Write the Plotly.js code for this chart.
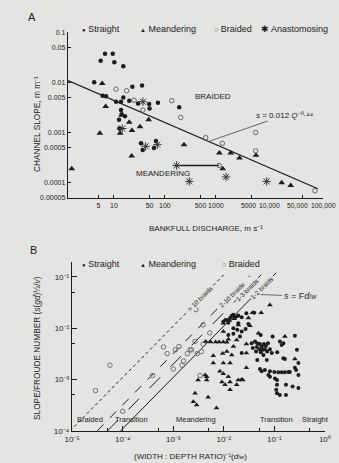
<!DOCTYPE html>
<html><head><meta charset="utf-8">
<script src="https://cdn.plot.ly/plotly-3.0.1.min.js"></script>
<style>html,body{margin:0;padding:0;background:#e4e4e2;}#chart{width:339px;height:463px;}</style>
</head><body><div id="chart"></div>
<script>
// ---------- Panel A: channel slope vs bankfull discharge ----------
const aStraightQ = [6.7, 9.5, 5.5, 10.2, 15.3, 4.1, 23, 35.6, 6.0, 7.0, 11, 13.8, 15.3, 20, 29.7, 49, 73, 50, 191, 13.8, 14.2, 16.5, 12.6, 12.8, 34, 36.7, 67, 61];
const aStraightS = [0.037, 0.037, 0.027, 0.025, 0.021, 0.010, 0.0082, 0.0086, 0.0054, 0.0053, 0.0041, 0.0041, 0.0050, 0.0043, 0.0038, 0.0037, 0.0039, 0.0030, 0.0032, 0.0028, 0.0023, 0.0021, 0.0018, 0.0012, 0.00061, 0.00045, 0.00068, 0.00049];
const aMeanderQ = [5.9, 6.9, 14.2, 20, 32.5, 48, 13.2, 22.6, 5.3, 22.3, 1.49, 237, 1170, 1950, 2900, 6100, 1360, 19500, 29300];
const aMeanderS = [0.0095, 0.0033, 0.0022, 0.0016, 0.0013, 0.0018, 0.00097, 0.0011, 0.00097, 0.00034, 0.00019, 0.00057, 0.00039, 0.00039, 0.00031, 0.00035, 0.00019, 0.0001, 0.000088];
const aBraidQ = [11, 17.8, 24.8, 37, 136, 204, 631, 1335, 6030, 6030, 1150, 87700];
const aBraidS = [0.0073, 0.0068, 0.0044, 0.0028, 0.0043, 0.0020, 0.00079, 0.00061, 0.0010, 0.00043, 0.00022, 0.000069];
const aAnastQ = [37, 14.6, 42, 71, 170, 1580, 300, 9900];
const aAnastS = [0.0041, 0.0012, 0.00053, 0.00057, 0.00022, 0.00013, 0.000106, 0.000106];
const aRangeQ = [170, 1150];          // connected pair (anastomosing -> braided)
const aRangeS = [0.00022, 0.00022];
const regCoef = 0.012, regExp = -0.44; // s = 0.012 Q^-0.44
const regQ = [1.26, 100000];
const aXTickVals = [5, 10, 50, 100, 500, 1000];
const aXTickText = ['5', '10', '50', '100', '500', '1000'];
const aXWideVals = [5000, 10000, 50000, 100000];
const aXWideText = ['5000', '10,000', '50,000', '100,000'];
const aXDecades = [10, 100, 1000, 10000, 100000];
const aYTickVals = [0.1, 0.05, 0.01, 0.005, 0.001, 0.0005, 0.0001, 0.00005];
const aYTickText = ['0.1', '0.05', '0.01', '0.005', '0.001', '0.0005', '0.0001', '0.00005'];
const aYDecades = [0.1, 0.01, 0.001, 0.0001];

// ---------- Panel B: slope/Froude number vs (width:depth)^-1 ----------
const bStraightX = [0.028, 0.040, 0.0144, 0.0155, 0.0194, 0.0226, 0.0133, 0.0166, 0.0115, 0.0098, 0.0123, 0.0194, 0.0307, 0.0155, 0.0185, 0.0226, 0.027, 0.0123, 0.0155, 0.0209, 0.0356, 0.0536, 0.0925, 0.129, 0.255, 0.14, 0.0414, 0.046, 0.0519, 0.0565, 0.0624, 0.0682, 0.0749, 0.0453, 0.051, 0.059, 0.065, 0.072, 0.082, 0.054, 0.061, 0.0435, 0.0376, 0.089, 0.114, 0.151, 0.0226, 0.046, 0.071, 0.162, 0.30, 0.28, 0.052, 0.056, 0.065, 0.082, 0.10, 0.12, 0.14, 0.162, 0.19, 0.203, 0.255, 0.30, 0.0765, 0.082, 0.103, 0.113, 0.113, 0.109, 0.113, 0.129, 0.17, 0.17, 0.23, 0.30, 0.27, 0.151];
const bStraightY = [0.0196, 0.020, 0.0174, 0.0182, 0.0176, 0.0164, 0.0158, 0.0158, 0.0145, 0.0134, 0.0128, 0.0125, 0.0121, 0.0100, 0.0093, 0.0086, 0.0096, 0.0074, 0.0078, 0.0069, 0.0051, 0.0074, 0.0069, 0.0055, 0.0071, 0.0047, 0.0055, 0.0051, 0.0049, 0.0044, 0.0049, 0.0045, 0.0051, 0.0043, 0.0039, 0.0038, 0.0039, 0.0035, 0.0039, 0.0034, 0.0030, 0.0035, 0.0041, 0.0033, 0.0034, 0.0026, 0.0033, 0.0024, 0.0024, 0.0025, 0.0021, 0.0038, 0.0016, 0.00145, 0.00154, 0.00145, 0.0014, 0.00139, 0.00139, 0.00139, 0.0014, 0.0014, 0.0017, 0.00123, 0.00123, 0.00113, 0.00105, 0.00098, 0.00079, 0.00063, 0.00054, 0.0005, 0.0005, 0.00079, 0.00073, 0.00068, 0.00154, 0.0051];
const bMeanderX = [0.0818, 0.055, 0.0175, 0.0307, 0.037, 0.016, 0.0106, 0.013, 0.0098, 0.0194, 0.033, 0.0098, 0.018, 0.0123, 0.0044, 0.0055, 0.0069, 0.0081, 0.0098, 0.0115, 0.028, 0.0485, 0.028, 0.0155, 0.0095, 0.0062, 0.0062, 0.0098, 0.0133, 0.0144, 0.028, 0.255, 0.0084, 0.0098, 0.0123, 0.0133, 0.0194, 0.0238, 0.0031, 0.0046, 0.0046, 0.0092, 0.0106, 0.0133, 0.0027, 0.0049, 0.0025, 0.0029, 0.0072, 0.0115, 0.018, 0.0043, 0.0226, 0.162];
const bMeanderY = [0.0284, 0.020, 0.0167, 0.0158, 0.020, 0.0152, 0.0145, 0.0141, 0.0125, 0.0116, 0.0112, 0.0086, 0.0059, 0.0061, 0.0055, 0.0054, 0.0054, 0.0054, 0.0054, 0.0053, 0.0049, 0.008, 0.0033, 0.0044, 0.0032, 0.0029, 0.0021, 0.0021, 0.0021, 0.0030, 0.0017, 0.0025, 0.00145, 0.0013, 0.00113, 0.00089, 0.00098, 0.00098, 0.00098, 0.00113, 0.00098, 0.00089, 0.00079, 0.00063, 0.00054, 0.00045, 0.00037, 0.00032, 0.00028, 0.0035, 0.00079, 0.00123, 0.001, 0.0069];
const bBraidX = [0.000029, 0.000056, 0.0001, 0.00039, 0.00064, 0.00076, 0.0011, 0.0013, 0.0010, 0.0016, 0.0019, 0.0030, 0.0028, 0.0034, 0.0039, 0.0015, 0.00215, 0.0053, 0.0036, 0.0039, 0.0027, 0.0023];
const bBraidY = [0.00061, 0.0019, 0.00024, 0.0012, 0.0043, 0.0032, 0.0038, 0.0044, 0.0016, 0.0023, 0.0032, 0.0032, 0.023, 0.0012, 0.0049, 0.0019, 0.0038, 0.0081, 0.0035, 0.0116, 0.0055, 0.0038];
const bLineCoef = [11, 3.2, 2.0, 1.1];        // s/F = coef * d/w
const bLineTop = [0.113, 0.105, 0.11, 0.12];
const bLineBottom = 0.0001;
const bLineDash = ['dot', 'dash', 'longdash', 'solid'];
const bLineLabel = ['&gt; 10 braids', '2-10 braids', '1-3 braids', '1-2 braids'];
const bLineLabelAt = [0.0034, 0.0145, 0.029, 0.057];
const bXTickVals = [1e-5, 1e-4, 1e-3, 1e-2, 1e-1, 1];
const bXTickText = ['10⁻⁵', '10⁻⁴', '10⁻³', '10⁻²', '10⁻¹', '10⁰'];
const bXMinor = [5e-5, 5e-4, 5e-3, 5e-2, 5e-1];
const bYTickVals = [1e-1, 1e-2, 1e-3, 1e-4];
const bYTickText = ['10⁻¹', '10⁻²', '10⁻³', '10⁻⁴'];
const bYMinor = [5e-2, 5e-3, 5e-4];

// ---------- drawing ----------
const W = 339, H = 463;
const px = v => v / W;
const py = v => 1 - v / H;
const INK = '#1c1c1c';
const BG = '#e4e4e2';
const FONT = 'Liberation Sans, Arial, Helvetica, sans-serif';

const traces = [];
traces.push({x: regQ, y: regQ.map(q => regCoef * Math.pow(q, regExp)), mode: 'lines', line: {color: INK, width: 1.2}, xaxis: 'x', yaxis: 'y'});
traces.push({x: aRangeQ, y: aRangeS, mode: 'lines', line: {color: INK, width: 1.6}, xaxis: 'x', yaxis: 'y'});
traces.push({x: aStraightQ, y: aStraightS, mode: 'markers', name: 'Straight', marker: {symbol: 'circle', size: 4.5, color: INK}, xaxis: 'x', yaxis: 'y'});
traces.push({x: aMeanderQ, y: aMeanderS, mode: 'markers', name: 'Meandering', marker: {symbol: 'triangle-up', size: 6, color: INK}, xaxis: 'x', yaxis: 'y'});
traces.push({x: aBraidQ, y: aBraidS, mode: 'markers', name: 'Braided', marker: {symbol: 'circle-open', size: 4.5, color: '#666', line: {width: 1, color: '#666'}}, xaxis: 'x', yaxis: 'y'});
traces.push({x: aAnastQ, y: aAnastS, mode: 'markers', name: 'Anastomosing', marker: {symbol: 'asterisk-open', size: 7, color: '#333', line: {width: 1, color: '#333'}}, xaxis: 'x', yaxis: 'y'});

bLineCoef.forEach((c, i) => {
  traces.push({x: [bLineBottom / c, bLineTop[i] / c], y: [bLineBottom, bLineTop[i]], mode: 'lines', line: {color: INK, width: 1, dash: bLineDash[i]}, xaxis: 'x2', yaxis: 'y2'});
});
traces.push({x: bBraidX, y: bBraidY, mode: 'markers', name: 'Braided', marker: {symbol: 'circle-open', size: 4.5, color: '#707070', line: {width: 1, color: '#707070'}}, xaxis: 'x2', yaxis: 'y2'});
traces.push({x: bMeanderX, y: bMeanderY, mode: 'markers', name: 'Meandering', marker: {symbol: 'triangle-up', size: 5, color: INK}, xaxis: 'x2', yaxis: 'y2'});
traces.push({x: bStraightX, y: bStraightY, mode: 'markers', name: 'Straight', marker: {symbol: 'circle', size: 4, color: INK}, xaxis: 'x2', yaxis: 'y2'});

const ann = [];
function label(x, y, text, size, extra) {
  ann.push(Object.assign({xref: 'paper', yref: 'paper', x: px(x), y: py(y), text: text, showarrow: false,
    font: {size: size, color: INK, family: FONT}, xanchor: 'center', yanchor: 'middle'}, extra || {}));
}
// panel letters
label(32, 17, 'A', 11);
label(33, 250, 'B', 11);
// legend A
label(80, 29, '<span style="font-size:6px">●</span> Straight', 9, {xanchor: 'left'});
label(138, 29, '<span style="font-size:6px">▲</span> Meandering', 9, {xanchor: 'left'});
label(212, 29, '<span style="font-size:7px;color:#555">○</span> Braided', 9, {xanchor: 'left'});
label(259, 29, '<span style="font-size:9px">✱</span> Anastomosing', 9, {xanchor: 'left'});
// legend B
label(80, 264, '<span style="font-size:6px">●</span> Straight', 9, {xanchor: 'left'});
label(138, 264, '<span style="font-size:6px">▲</span> Meandering', 9, {xanchor: 'left'});
label(220, 264, '<span style="font-size:7px;color:#555">○</span> Braided', 9, {xanchor: 'left'});
// wide tick labels of panel A x axis (spread apart so they do not collide)
const wideShift = [-3, 3, -5, 6];
aXWideVals.forEach((v, i) => ann.push({xref: 'x', yref: 'paper', x: Math.log10(v), y: py(205), xshift: wideShift[i], text: aXWideText[i],
  showarrow: false, yanchor: 'middle', font: {size: 6.8, color: INK, family: FONT}}));
// axis titles A
label(37, 124, 'CHANNEL SLOPE, m m⁻¹', 8.3, {textangle: -90});
label(206, 228, 'BANKFULL DISCHARGE, m s⁻¹', 8);
// in-plot text A
label(213, 96, 'BRAIDED', 8);
label(163, 173, 'MEANDERING', 8);
ann.push({xref: 'paper', yref: 'paper', x: px(210), y: py(141), ax: 75, ay: -26, showarrow: true, arrowhead: 0, arrowwidth: 0.8, arrowcolor: '#444',
  text: '<i>s</i> = 0.012 <i>Q</i>⁻⁰·⁴⁴', font: {size: 8, color: INK, family: FONT}});
// axis titles B
label(37, 348, 'SLOPE/FROUDE NUMBER (<i>s</i>(<i>gd</i>)½/<i>v</i>)', 8.3, {textangle: -90});
label(191, 456, '(WIDTH : DEPTH RATIO)⁻¹(<i>d</i><span style="font-size:6px">/<i>w</i></span>)', 8);
// region labels B
label(90, 419, 'Braided', 7.5);
label(131, 419, 'Transition', 7.5);
label(196, 419, 'Meandering', 7.5);
label(276, 419, 'Transition', 7.5);
label(315, 419, 'Straight', 7.5);
ann.push({xref: 'paper', yref: 'paper', x: px(259), y: py(294.5), ax: 41, ay: 1.5, showarrow: true, arrowhead: 0, arrowwidth: 0.8, arrowcolor: '#444',
  text: '<i>s</i> = F<i>d</i><span style="font-size:7px">/<i>w</i></span>', font: {size: 9, color: INK, family: FONT}});
// line labels B
bLineCoef.forEach((c, i) => {
  const x = bLineLabelAt[i];
  ann.push({xref: 'x2', yref: 'y2', x: Math.log10(x), y: Math.log10(c * x), text: bLineLabel[i], showarrow: false, textangle: -45,
    font: {size: 6.5, color: INK, family: FONT}, bgcolor: BG, borderpad: 0});
});

const axBase = {type: 'log', showline: true, linecolor: INK, linewidth: 1.2, ticks: 'inside', tickcolor: INK, tickwidth: 1,
  showgrid: false, zeroline: false, tickangle: 0, tickfont: {size: 7, color: INK, family: FONT}};
const longTicks = {type: 'log', ticks: 'inside', ticklen: 6, tickcolor: INK, tickwidth: 1, showticklabels: false,
  showline: false, showgrid: false, zeroline: false, tickmode: 'array'};

const layout = {
  width: W, height: H, margin: {l: 0, r: 0, t: 0, b: 0},
  paper_bgcolor: BG, plot_bgcolor: 'rgba(0,0,0,0)', showlegend: false,
  font: {family: FONT, size: 7, color: INK},
  xaxis: Object.assign({}, axBase, {domain: [px(68), px(323)], range: [0.1, 5.1], anchor: 'y', tickmode: 'array', tickvals: aXTickVals, ticktext: aXTickText, ticklen: 3,
    minor: {tickmode: 'array', tickvals: [5000, 50000], ticks: 'inside', ticklen: 3, tickcolor: INK, tickwidth: 1, showgrid: false}}),
  yaxis: Object.assign({}, axBase, {domain: [py(198), py(32)], range: [-4.306, -0.997], anchor: 'x', tickmode: 'array', tickvals: aYTickVals, ticktext: aYTickText, ticklen: 3}),
  xaxis3: Object.assign({}, longTicks, {overlaying: 'x', anchor: 'y', side: 'bottom', range: [0.1, 5.1], tickvals: aXDecades}),
  yaxis3: Object.assign({}, longTicks, {overlaying: 'y', anchor: 'x', side: 'left', range: [-4.306, -0.997], tickvals: aYDecades, ticklen: 5}),
  xaxis2: Object.assign({}, axBase, {domain: [px(72), px(325)], range: [-5.003, 0.003], anchor: 'y2', tickmode: 'array', tickvals: bXTickVals, ticktext: bXTickText, ticklen: 5,
    tickfont: {size: 8, color: INK, family: FONT},
    minor: {tickmode: 'array', tickvals: bXMinor, ticks: 'inside', ticklen: 3, tickcolor: INK, tickwidth: 1, showgrid: false}}),
  yaxis2: Object.assign({}, axBase, {domain: [py(431), py(262)], range: [-4.003, -0.71], anchor: 'x2', tickmode: 'array', tickvals: bYTickVals, ticktext: bYTickText, ticklen: 5,
    tickfont: {size: 8, color: INK, family: FONT},
    minor: {tickmode: 'array', tickvals: bYMinor, ticks: 'inside', ticklen: 3, tickcolor: INK, tickwidth: 1, showgrid: false}}),
  annotations: ann
};

Plotly.newPlot('chart', traces, layout, {staticPlot: true, displayModeBar: false});
</script>
</body></html>
